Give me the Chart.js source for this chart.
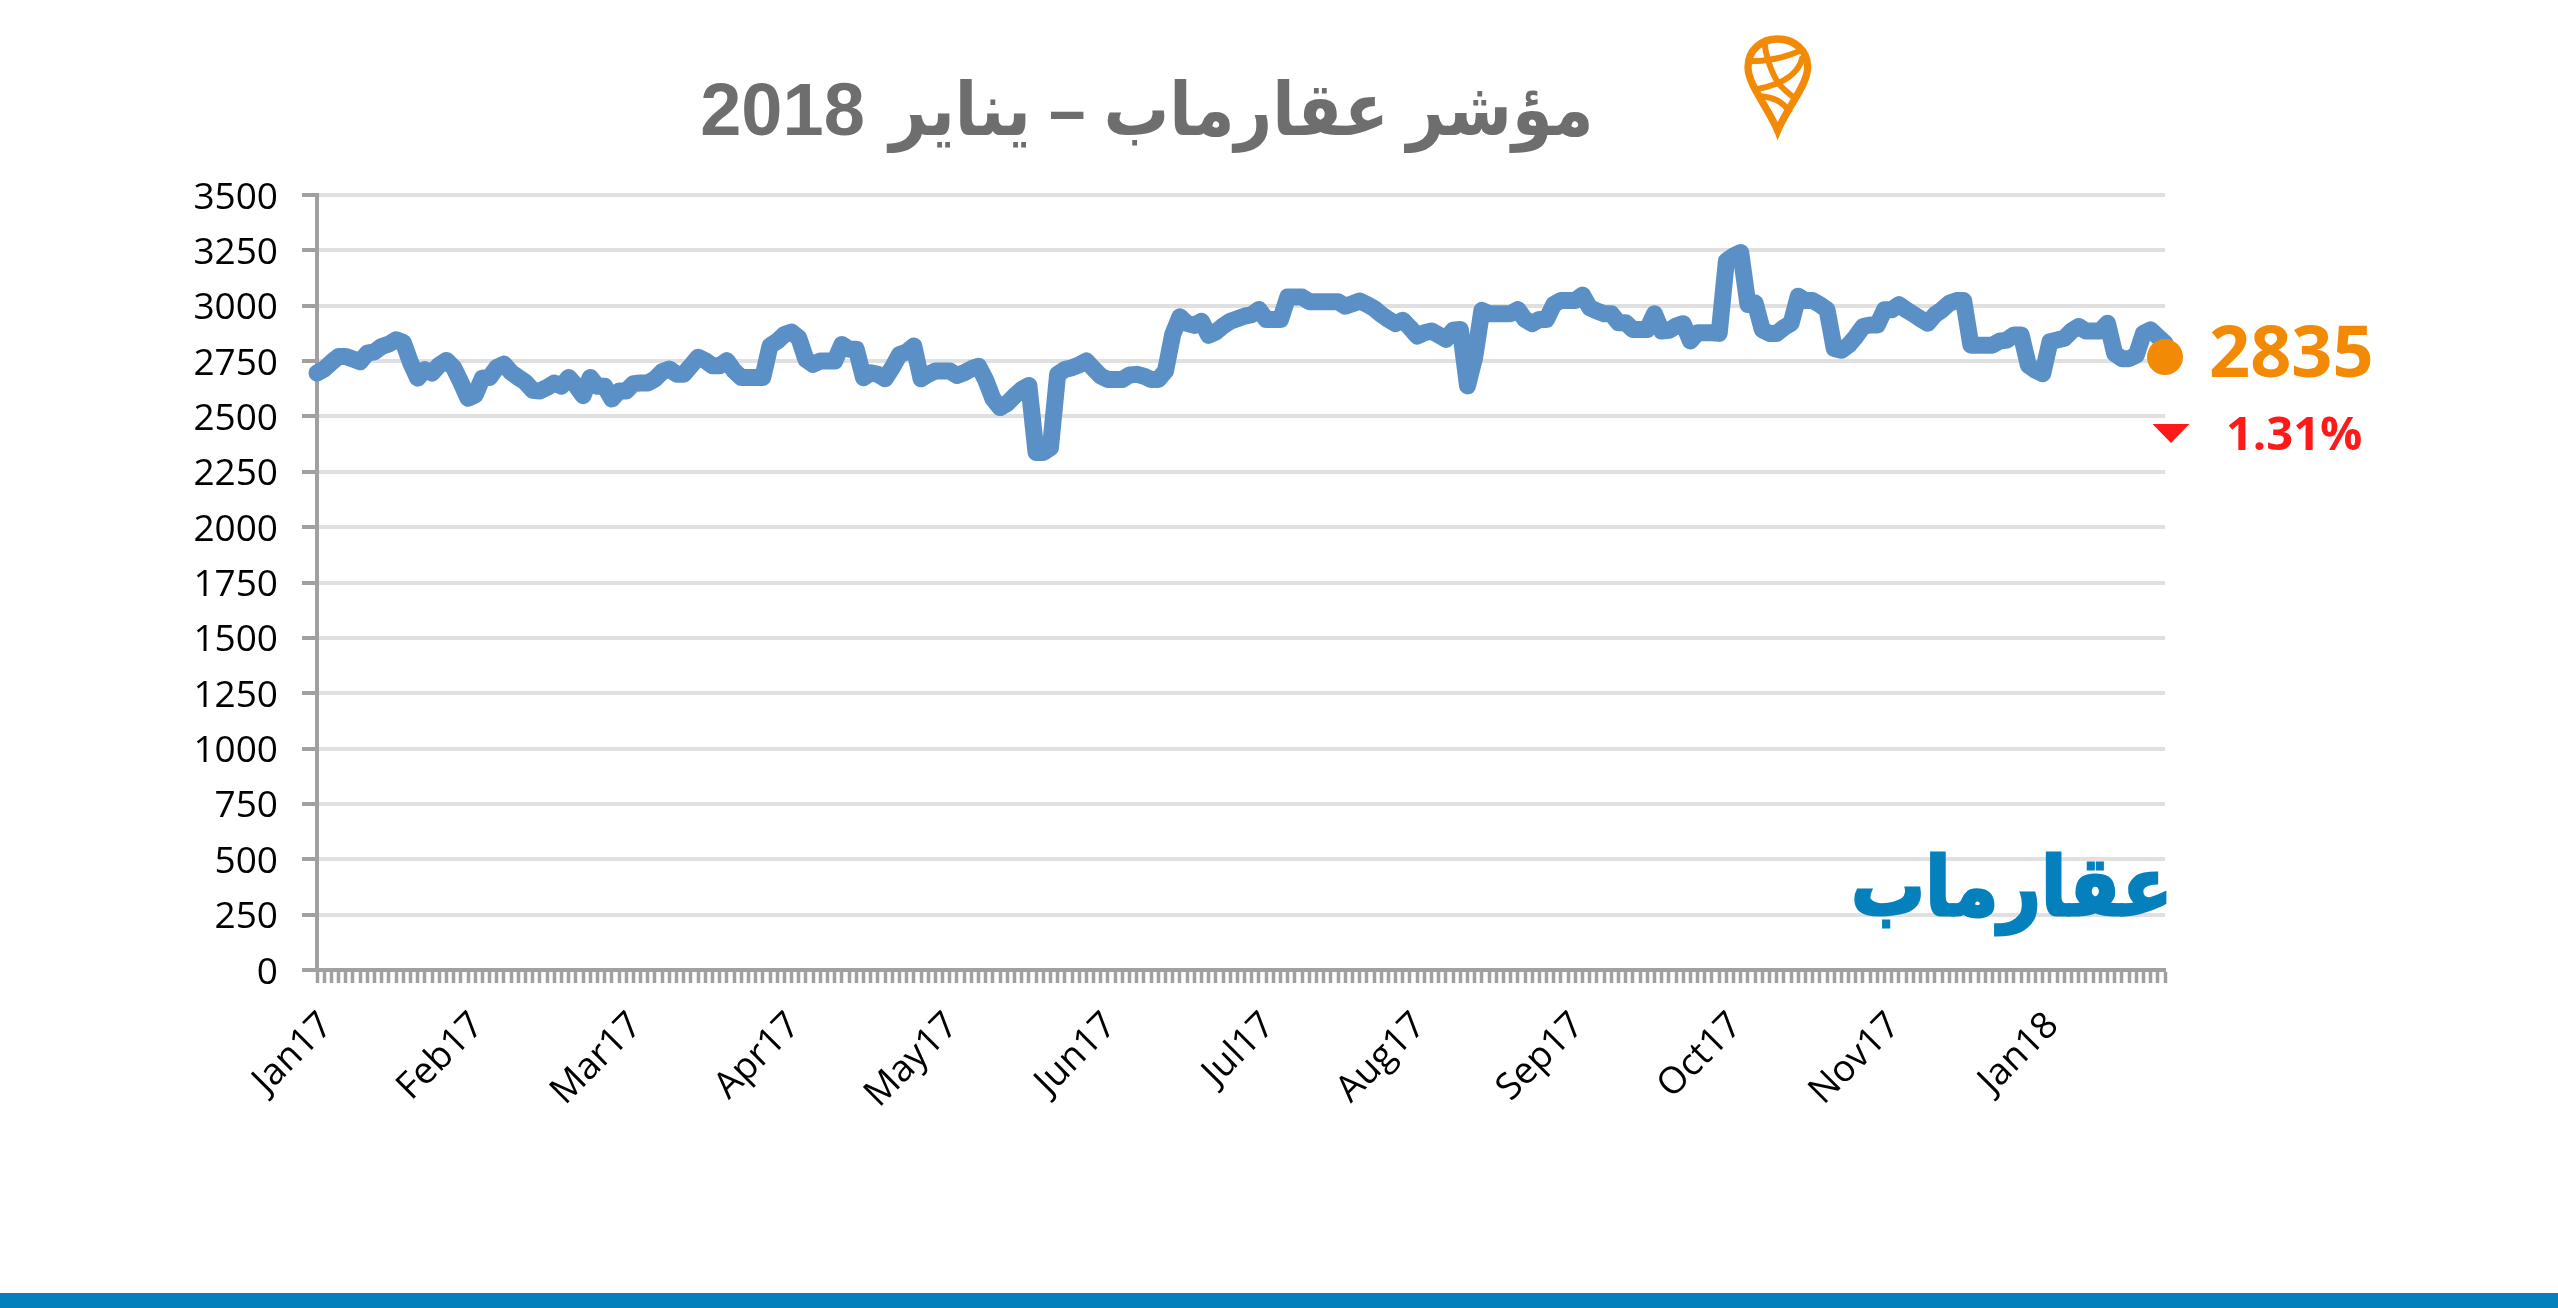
<!DOCTYPE html>
<html>
<head>
<meta charset="utf-8">
<script src="https://cdn.jsdelivr.net/npm/chart.js@4"></script>
<style>
  html, body { margin: 0; padding: 0; background: #fff; }
  #stage { position: relative; width: 2558px; height: 1308px; overflow: hidden; }
  #stage canvas { position: absolute; left: 0; top: 0; }
  .note { position: absolute; white-space: nowrap; line-height: 1; }
  #title { left: 600px; width: 994px; top: 66px; direction: rtl; text-align: right; color: #6e6e6e;
    font: bold 74px "Liberation Sans", "DejaVu Sans", sans-serif; }
  #titleWords { display: inline-block; transform: scaleX(0.885); transform-origin: right center; margin-left: -87px; }
  #lastValue { left: 2209px; top: 300px; color: #f28a05; font: bold 72px "Open Sans", sans-serif; }
  #lastChange { left: 2226px; top: 400px; color: #ff1a1a; font: bold 47px "Open Sans", sans-serif; }
  #brand { left: 1851px; top: 839px; direction: rtl; color: #0480bd; font: bold 82px "DejaVu Sans", sans-serif;
    -webkit-text-stroke: 3px #0480bd; transform: scaleX(0.9); transform-origin: left center; }
  #bottomBar { position: absolute; left: 0; right: 0; top: 1293px; height: 15px; background: #0480bd; }
  svg { position: absolute; }
</style>
</head>
<body>
<div id="stage">
  <canvas id="indexChart" width="2558" height="1308"></canvas>
  <div id="title" class="note"><span id="titleWords">مؤشر عقارماب – يناير</span> 2018</div>
  <div id="lastValue" class="note">2835</div>
  <div id="lastChange" class="note">1.31%</div>
  <div id="brand" class="note">عقارماب</div>
  <svg style="left:2152px;top:424px" width="38" height="19"><path d="M0.5 0H37.5L19 19Z" fill="#ff1a1a"/></svg>
  <svg style="left:1735px;top:28px" width="90" height="115" viewBox="0 0 270 345" fill="none" stroke="#f28a05" stroke-width="18">
    <path stroke-width="22" d="M128 308C100 240 39 170 39 118C39 65 80 33 128 33C176 33 218 65 218 118C218 170 156 240 128 308Z"/>
    <path d="M45 100C90 100 150 90 195 68"/>
    <path d="M88 42C92 85 110 135 130 165C145 185 165 200 185 215"/>
    <path d="M203 85C195 125 165 165 60 185"/>
    <path d="M68 205C110 205 145 220 165 255"/>
  </svg>
  <div id="bottomBar"></div>
</div>
<script>
const monthLabels = ["Jan17", "Feb17", "Mar17", "Apr17", "May17", "Jun17", "Jul17", "Aug17", "Sep17", "Oct17", "Nov17", "Jan18"];
const monthStarts = [0, 21, 43, 65, 87, 109, 131, 152, 174, 196, 218, 240];
const yTicks = [0, 250, 500, 750, 1000, 1250, 1500, 1750, 2000, 2250, 2500, 2750, 3000, 3250, 3500];

// one value per trading day
const indexValues = [
  2696, 2714, 2744, 2771, 2771, 2759, 2747, 2786, 2792, 2816,
  2827, 2846, 2834, 2744, 2673, 2711, 2696, 2732, 2753, 2721,
  2654, 2582, 2597, 2673, 2676, 2721, 2736, 2699, 2676, 2654,
  2618, 2615, 2631, 2651, 2637, 2676, 2639, 2594, 2676, 2636,
  2636, 2579, 2615, 2615, 2648, 2651, 2651, 2669, 2702, 2714,
  2691, 2691, 2729, 2767, 2752, 2729, 2729, 2752, 2706, 2676,
  2676, 2676, 2676, 2819, 2840, 2870, 2881, 2855, 2757, 2735,
  2750, 2750, 2750, 2825, 2803, 2803, 2675, 2697, 2690, 2670,
  2720, 2780, 2791, 2818, 2670, 2690, 2705, 2705, 2705, 2685,
  2697, 2715, 2727, 2664, 2580, 2540, 2559, 2592, 2622, 2640,
  2337, 2337, 2359, 2690, 2712, 2720, 2733, 2750, 2715, 2682,
  2667, 2667, 2667, 2687, 2690, 2682, 2667, 2667, 2705, 2870,
  2950, 2920, 2911, 2930, 2866, 2881, 2908, 2930, 2941, 2953,
  2960, 2983, 2938, 2938, 2938, 3039, 3039, 3039, 3018, 3018,
  3018, 3018, 3018, 2998, 3009, 3021, 3006, 2988, 2961, 2938,
  2919, 2934, 2901, 2863, 2878, 2886, 2868, 2848, 2889, 2893,
  2638, 2766, 2979, 2964, 2964, 2964, 2964, 2983, 2938, 2919,
  2938, 2938, 3006, 3024, 3024, 3024, 3048, 2991, 2976, 2964,
  2964, 2923, 2923, 2893, 2893, 2893, 2964, 2886, 2889, 2908,
  2919, 2841, 2878, 2878, 2878, 2875, 3202, 3225, 3240, 3005,
  3012, 2891, 2875, 2875, 2901, 2921, 3043, 3023, 3023, 3005,
  2982, 2807, 2799, 2822, 2860, 2906, 2913, 2913, 2982, 2982,
  3005, 2982, 2962, 2941, 2921, 2959, 2982, 3011, 3023, 3023,
  2822, 2822, 2822, 2822, 2840, 2845, 2868, 2868, 2731, 2708,
  2693, 2837, 2845, 2853, 2886, 2906, 2886, 2886, 2886, 2921,
  2784, 2761, 2761, 2776, 2875, 2891, 2860, 2830
];
const lastPointValue = 2768;

const categories = indexValues.map((_, i) => {
  const month = monthStarts.indexOf(i);
  return month === -1 ? "" : monthLabels[month];
});
const markerValues = indexValues.map((_, i) => (i === indexValues.length - 1 ? lastPointValue : null));

const tickFont = { family: "'Open Sans', sans-serif", size: 37 };

new Chart(document.getElementById("indexChart"), {
  type: "line",
  data: {
    labels: categories,
    datasets: [
      {
        data: markerValues,
        order: 0,
        clip: false,
        showLine: false,
        pointRadius: 18,
        pointBackgroundColor: "#f28a05",
        pointBorderWidth: 0,
      },
      {
        data: indexValues,
        order: 1,
        clip: false,
        borderColor: "#5b90c6",
        borderWidth: 17,
        borderJoinStyle: "round",
        borderCapStyle: "round",
        tension: 0,
        pointRadius: 0,
      },
    ],
  },
  options: {
    responsive: false,
    animation: false,
    devicePixelRatio: 1,
    layout: { padding: { left: 0, top: 195, right: 393, bottom: 138 } },
    plugins: { legend: { display: false }, tooltip: { enabled: false } },
    scales: {
      x: {
        type: "category",
        offset: false,
        afterFit(scale) { scale.height = 200; },
        border: { color: "#a0a0a0", width: 4 },
        grid: { drawOnChartArea: false, tickColor: "#a0a0a0", tickLength: 13, tickWidth: 3.5 },
        ticks: {
          autoSkip: false,
          minRotation: 45,
          maxRotation: 45,
          padding: 21,
          labelOffset: 10,
          color: "#000",
          font: tickFont,
        },
      },
      y: {
        min: 0,
        max: 3500,
        afterFit(scale) { scale.width = 317; },
        afterBuildTicks(scale) { scale.ticks = yTicks.map((value) => ({ value })); },
        border: { color: "#a0a0a0", width: 4 },
        grid: { color: "#e0e0e0", lineWidth: 4, tickColor: "#a0a0a0", tickLength: 15, tickWidth: 4 },
        ticks: {
          padding: 24,
          labelOffset: 3,
          color: "#000",
          font: tickFont,
          callback: (value) => String(value),
        },
      },
    },
  },
});
</script>
</body>
</html>
